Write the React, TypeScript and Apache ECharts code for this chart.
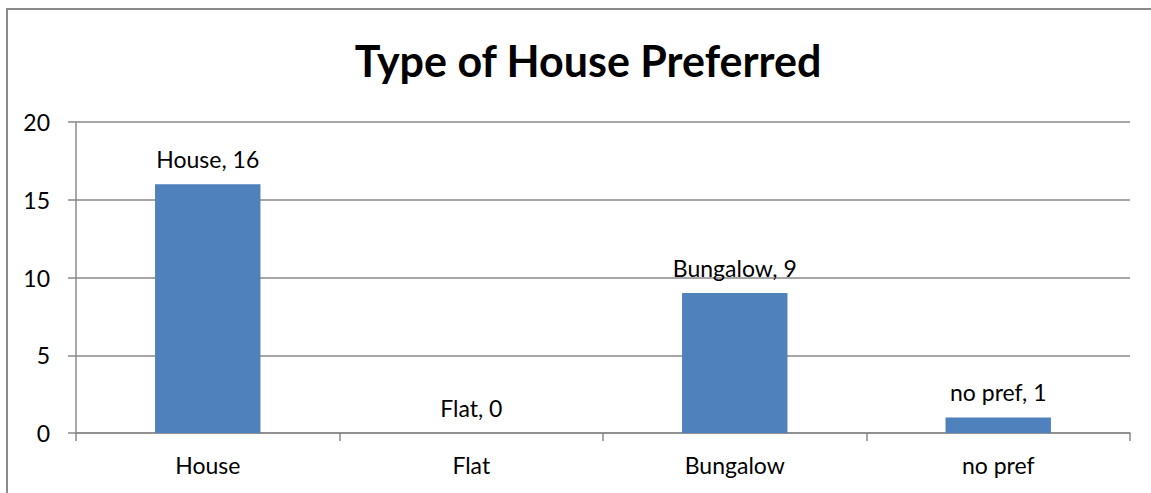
import React, { useEffect, useRef } from "react";
import * as echarts from "echarts";

const categories = ["House", "Flat", "Bungalow", "no pref"];
const values = [16, 0, 9, 1];
const yTicks = [0, 5, 10, 15, 20];

const FONT = "Lato, 'Open Sans', sans-serif";

export default function App() {
  const ref = useRef<HTMLDivElement>(null);
  useEffect(() => {
    document.body.style.margin = "0";
    const chart = echarts.init(ref.current!, undefined, { renderer: "svg" });
    chart.setOption({
      animation: false,
      backgroundColor: "#ffffff",
      title: {
        text: "Type of House Preferred",
        left: 583,
        textAlign: "center",
        top: 34,
        textStyle: { fontFamily: FONT, fontSize: 43, fontWeight: "bold", color: "#000" },
      },
      graphic: [
        {
          type: "rect",
          shape: { x: 7, y: 9, width: 1300, height: 700 },
          style: { fill: "none", stroke: "#8a8a8a", lineWidth: 2 },
          silent: true,
        },
      ],
      grid: { left: 76, right: 21, top: 122, bottom: 60, containLabel: false },
      xAxis: {
        type: "category",
        data: categories,
        axisLine: { show: true, lineStyle: { color: "#8a8a8a", width: 1.5 } },
        axisTick: { show: true, alignWithLabel: false, length: 8, lineStyle: { color: "#8a8a8a", width: 1.5 } },
        axisLabel: { margin: 20, fontFamily: FONT, fontSize: 23, color: "#000" },
      },
      yAxis: {
        type: "value",
        min: yTicks[0],
        max: yTicks[yTicks.length - 1],
        interval: 5,
        axisLine: { show: true, lineStyle: { color: "#8a8a8a", width: 1.5 } },
        axisTick: { show: true, length: 8, lineStyle: { color: "#8a8a8a", width: 1.5 } },
        splitLine: { show: true, lineStyle: { color: "#8a8a8a", width: 1.5 } },
        axisLabel: { margin: 26, fontFamily: FONT, fontSize: 23, color: "#000" },
      },
      series: [
        {
          type: "bar",
          data: values,
          barWidth: "40%",
          itemStyle: { color: "#4F81BD" },
          label: {
            show: true,
            position: "top",
            distance: 14,
            fontFamily: FONT,
            fontSize: 23,
            color: "#000",
            formatter: (p: any) => `${p.name}, ${p.value}`,
          },
        },
      ],
    });
    return () => chart.dispose();
  }, []);
  return <div ref={ref} style={{ width: 1151, height: 493 }} />;
}
